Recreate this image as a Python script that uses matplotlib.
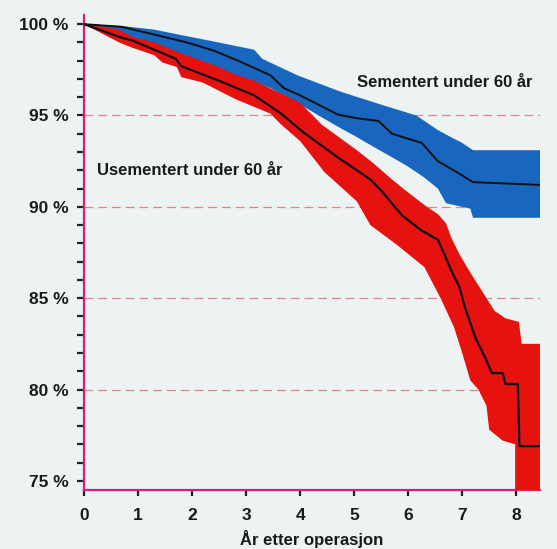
#Survival curves with confidence bands for cemented and uncemented prostheses, patients under 60

import numpy as np
import matplotlib
matplotlib.use("Agg")
import matplotlib.pyplot as plt
from matplotlib.ticker import MultipleLocator, FuncFormatter

plt.rcParams["font.family"] = ["Liberation Sans", "DejaVu Sans"]

#Sementert under 60 år (median curve and band edges)
sem_median_x = [0, 0.7, 1.2, 1.9, 2.4, 2.85, 3.45, 3.7, 4.0, 4.7, 5.05, 5.45, 5.7, 6.25, 6.55, 6.9, 7.2, 8.44]
sem_median_y = [100, 99.85, 99.5, 99.0, 98.55, 98.0, 97.2, 96.5, 96.1, 95.05, 94.85, 94.7, 94.0, 93.5, 92.5, 91.9, 91.35, 91.2]
sem_upper_x = [0, 0.7, 1.3, 1.8, 2.4, 2.9, 3.15, 3.3, 3.95, 4.75, 5.6, 6.15, 6.3, 6.55, 6.8, 7.0, 7.2, 8.44]
sem_upper_y = [100, 99.9, 99.7, 99.4, 99.05, 98.75, 98.6, 98.1, 97.2, 96.3, 95.5, 95.0, 94.7, 94.2, 93.8, 93.5, 93.1, 93.1]
sem_lower_x = [0, 0.6, 1.2, 1.8, 2.5, 2.9, 3.45, 4.0, 4.4, 4.75, 5.0, 5.35, 5.65, 6.0, 6.3, 6.55, 6.7, 7.15, 7.2, 8.44]
sem_lower_y = [100, 99.55, 99.0, 98.3, 97.5, 97.1, 96.5, 95.6, 94.9, 94.3, 93.9, 93.3, 92.8, 92.2, 91.6, 91.0, 90.2, 89.9, 89.4, 89.4]

#Usementert under 60 år
use_median_x = [0, 0.65, 0.9, 1.3, 1.7, 1.8, 2.5, 3.15, 3.65, 3.85, 4.05, 4.7, 5.3, 5.5, 5.75, 5.9, 6.25,
                6.55, 6.7, 6.8, 6.95, 7.05, 7.25, 7.4, 7.55, 7.75, 7.8, 8.03, 8.06, 8.44]
use_median_y = [100, 99.3, 99.1, 98.6, 98.1, 97.7, 96.9, 96.1, 95.1, 94.6, 94.1, 92.7, 91.5, 90.9, 90.0, 89.5, 88.7,
                88.2, 87.2, 86.5, 85.6, 84.5, 82.8, 81.9, 80.9, 80.9, 80.3, 80.3, 76.9, 76.9]
use_upper_x = [0, 0.65, 0.9, 1.3, 1.8, 2.5, 2.75, 3.15, 3.65, 4.0, 4.4, 5.05, 5.35, 5.7, 5.95, 6.3, 6.55,
               6.7, 6.8, 6.95, 7.15, 7.3, 7.45, 7.6, 7.8, 8.05, 8.1, 8.44]
use_upper_y = [100, 99.7, 99.3, 99.0, 98.4, 97.65, 97.3, 96.9, 96.2, 95.7, 94.5, 93.1, 92.4, 91.5, 90.9, 90.1, 89.6,
               89.1, 88.3, 87.4, 86.4, 85.7, 85.0, 84.3, 83.9, 83.7, 82.5, 82.5]
use_lower_x = [0, 0.65, 0.9, 1.3, 1.45, 1.72, 1.8, 2.2, 2.8, 3.45, 3.65, 4.0, 4.45, 5.05, 5.3, 5.8, 6.3,
               6.6, 6.85, 7.0, 7.15, 7.3, 7.45, 7.5, 7.75, 7.98, 7.98, 8.44]
use_lower_y = [100, 99.0, 98.7, 98.3, 97.9, 97.65, 97.1, 96.8, 95.9, 95.1, 94.5, 93.6, 91.9, 90.3, 89.0, 87.9, 86.7,
               85.0, 83.4, 82.0, 80.5, 80.0, 79.1, 77.8, 77.2, 77.0, 74.0, 74.0]

grid_levels = [80, 85, 90, 95]
x_ticks = [0, 1, 2, 3, 4, 5, 6, 7, 8]
y_ticks = [75, 80, 85, 90, 95, 100]

bg = "#edf3f2"
pink = "#e0197d"
blue = "#1966be"
red = "#e5120f"

fig = plt.figure(figsize=(5.57, 5.49), dpi=100, facecolor=bg)
ax = fig.add_axes([84 / 557, 1 - 490 / 549, 456 / 557, 475 / 549], facecolor=bg)

#Dashed reference lines
for level in grid_levels:
    ax.axhline(level, color="#e8808a", lw=0.9, ls=(0, (7, 4)), zorder=1)

#Confidence bands as polygons: upper edge forward, lower edge back
ax.fill(np.concatenate([sem_upper_x, sem_lower_x[::-1]]),
        np.concatenate([sem_upper_y, sem_lower_y[::-1]]),
        color=blue, lw=0, zorder=2)
ax.fill(np.concatenate([use_upper_x, use_lower_x[::-1]]),
        np.concatenate([use_upper_y, use_lower_y[::-1]]),
        color=red, lw=0, zorder=3)

#Median curves
ax.plot(sem_median_x, sem_median_y, color="#101010", lw=1.4, zorder=4)
ax.plot(use_median_x, use_median_y, color="#101010", lw=1.6, zorder=5)

ax.text(5.06, 96.83, "Sementert under 60 år", fontsize=12, fontweight="bold",
        color="#1a1a1a", va="center", ha="left")
ax.text(0.24, 91.97, "Usementert under 60 år", fontsize=12, fontweight="bold",
        color="#1a1a1a", va="center", ha="left")

ax.set_xlim(0, 8.44)
ax.set_ylim(74.5, 100.5)
ax.set_xticks(x_ticks)
ax.set_yticks(y_ticks)
ax.yaxis.set_minor_locator(MultipleLocator(1))
ax.yaxis.set_major_formatter(FuncFormatter(lambda v, p: f"{v:.0f} %"))

for side in ["top", "right"]:
    ax.spines[side].set_visible(False)
for side in ["left", "bottom"]:
    ax.spines[side].set_color(pink)
    ax.spines[side].set_linewidth(1.6)

ax.tick_params(axis="y", which="both", direction="out", length=5, width=1.6,
               color="#202020", pad=6, labelsize=12.5, labelcolor="#1a1a1a")
ax.tick_params(axis="x", which="both", direction="out", length=4, width=1.6,
               color="#202020", pad=9, labelsize=12.5, labelcolor="#1a1a1a")
for lbl in ax.get_xticklabels() + ax.get_yticklabels():
    lbl.set_fontweight("bold")

ax.set_xlabel("År etter operasjon", fontsize=12, fontweight="bold", color="#1a1a1a", labelpad=5)

fig.savefig("out.png", dpi=100, facecolor=bg)
